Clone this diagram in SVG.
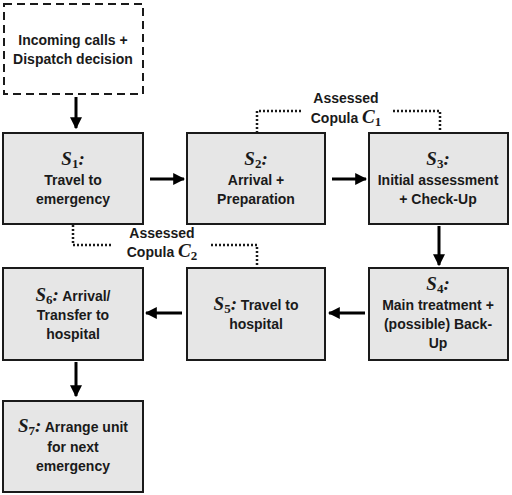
<svg xmlns="http://www.w3.org/2000/svg" width="512" height="495" viewBox="0 0 512 495">
<defs>
<style>
.box{fill:#e6e6e6;stroke:#1a1a1a;stroke-width:2}
.start{fill:#fff;stroke:#1a1a1a;stroke-width:2;stroke-dasharray:8,5}
.t{font-family:"Liberation Sans",Arial,sans-serif;font-weight:bold;font-size:14px;fill:#1a1a1a;text-anchor:middle}
.m{font-family:"Liberation Serif","Times New Roman",serif;font-style:italic;font-weight:bold;font-size:19px}
.sub{font-family:"Liberation Serif","Times New Roman",serif;font-style:normal;font-weight:bold;font-size:13px}
.arr{stroke:#000;stroke-width:3;fill:none;marker-end:url(#ah)}
.dot{stroke:#1a1a1a;stroke-width:2.5;fill:none;stroke-dasharray:2,2}
</style>
<marker id="ah" viewBox="0 0 10 10" refX="9" refY="5" markerWidth="4" markerHeight="4" orient="auto" markerUnits="strokeWidth">
<path d="M0,0 L10,5 L0,10 z" fill="#000"/>
</marker>
</defs>
<rect width="512" height="495" fill="#fff"/>
<g id="connectors">
<line class="arr" x1="76" y1="97" x2="76" y2="128"/>
<line class="arr" x1="150" y1="179" x2="184" y2="179"/>
<line class="arr" x1="332" y1="179" x2="366" y2="179"/>
<line class="arr" x1="439" y1="226" x2="439" y2="265"/>
<line class="arr" x1="365" y1="313" x2="329" y2="313"/>
<line class="arr" x1="182" y1="313" x2="146" y2="313"/>
<line class="arr" x1="76" y1="362" x2="76" y2="396"/>
<polyline class="dot" points="257,133 257,111 301,111"/>
<polyline class="dot" points="393,111 440,111 440,133"/>
<polyline class="dot" points="73,225 73,245 112,245"/>
<polyline class="dot" points="211,245 257,245 257,268"/>
<text class="t" x="346" y="103">Assessed</text>
<text class="t" x="346" y="123">Copula <tspan class="m">C</tspan><tspan class="sub" dy="3">1</tspan></text>
<text class="t" x="162" y="238">Assessed</text>
<text class="t" x="162" y="257">Copula <tspan class="m">C</tspan><tspan class="sub" dy="3">2</tspan></text>
</g>
<g id="start">
<rect class="start" x="4" y="4" width="139" height="90"/>
<text class="t" x="73" y="45">Incoming calls +</text>
<text class="t" x="73" y="64">Dispatch decision</text>
</g>
<g id="s1">
<rect class="box" x="3" y="133" width="140" height="91"/>
<text class="t" x="73" y="165"><tspan class="m">S</tspan><tspan class="sub" dy="3">1</tspan><tspan class="m" dy="-3">:</tspan></text>
<text class="t" x="73" y="185">Travel to</text>
<text class="t" x="73" y="204">emergency</text>
</g>
<g id="s2">
<rect class="box" x="187" y="133" width="138" height="91"/>
<text class="t" x="256" y="165"><tspan class="m">S</tspan><tspan class="sub" dy="3">2</tspan><tspan class="m" dy="-3">:</tspan></text>
<text class="t" x="256" y="185">Arrival +</text>
<text class="t" x="256" y="204">Preparation</text>
</g>
<g id="s3">
<rect class="box" x="369" y="133" width="139" height="91"/>
<text class="t" x="438" y="165"><tspan class="m">S</tspan><tspan class="sub" dy="3">3</tspan><tspan class="m" dy="-3">:</tspan></text>
<text class="t" x="438" y="185">Initial assessment</text>
<text class="t" x="438" y="204">+ Check-Up</text>
</g>
<g id="s4">
<rect class="box" x="369" y="268" width="139" height="92"/>
<text class="t" x="438" y="290"><tspan class="m">S</tspan><tspan class="sub" dy="3">4</tspan><tspan class="m" dy="-3">:</tspan></text>
<text class="t" x="438" y="310">Main treatment +</text>
<text class="t" x="438" y="329">(possible) Back-</text>
<text class="t" x="438" y="348">Up</text>
</g>
<g id="s5">
<rect class="box" x="187" y="268" width="138" height="92"/>
<text class="t" x="256" y="310"><tspan class="m">S</tspan><tspan class="sub" dy="3">5</tspan><tspan class="m" dy="-3">:</tspan> Travel to</text>
<text class="t" x="256" y="329">hospital</text>
</g>
<g id="s6">
<rect class="box" x="3" y="268" width="140" height="92"/>
<text class="t" x="73" y="301"><tspan class="m">S</tspan><tspan class="sub" dy="3">6</tspan><tspan class="m" dy="-3">:</tspan> Arrival/</text>
<text class="t" x="73" y="320">Transfer to</text>
<text class="t" x="73" y="339">hospital</text>
</g>
<g id="s7">
<rect class="box" x="3" y="401" width="140" height="91"/>
<text class="t" x="73" y="432"><tspan class="m">S</tspan><tspan class="sub" dy="3">7</tspan><tspan class="m" dy="-3">:</tspan> Arrange unit</text>
<text class="t" x="73" y="452">for next</text>
<text class="t" x="73" y="471">emergency</text>
</g>
</svg>
